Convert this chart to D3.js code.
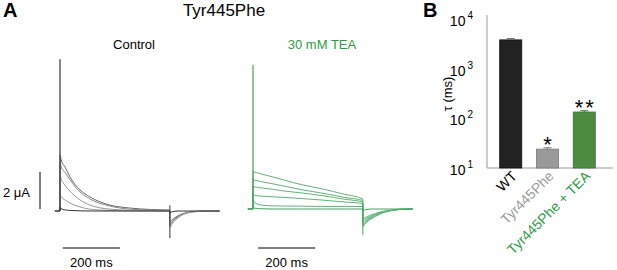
<!DOCTYPE html>
<html>
<head>
<meta charset="utf-8">
<script src="https://cdn.jsdelivr.net/npm/d3@7"></script>
<style>
  body { margin: 0; background: #fff; }
  svg { display: block; font-family: "Liberation Sans", Arial, sans-serif; }
</style>
</head>
<body>
<svg id="fig" width="617" height="270"></svg>
<script>
// ---- panel A: current sweeps, time in ms, current in µA ----
const tPre = [-18, -0.3]
const tPulse = [0, 5, 17, 35, 70, 105, 175, 245, 320, 385]
const tTail = [386, 392, 400, 414, 430, 455, 490, 520, 560]

const ctrlPulse = [
  [3.0, 2.7, 2.4, 1.84, 1.14, 0.76, 0.32, 0.16, 0.08, 0.05],
  [2.6, 2.35, 2.1, 1.68, 1.03, 0.65, 0.27, 0.10, 0.05, 0.03],
  [1.95, 1.7, 1.4, 1.08, 0.6, 0.32, 0.1, 0.04, 0.02, 0.01],
  [0.86, 0.75, 0.6, 0.43, 0.22, 0.1, 0.03, 0.01, 0, 0],
  [0.2, 0.12, 0.06, 0.03, 0.01, 0, 0, 0, 0, 0]
]
const ctrlTail = [
  [-0.6, -0.5, -0.4, -0.26, -0.15, -0.05, -0.01, 0, 0],
  [-0.7, -0.58, -0.46, -0.3, -0.17, -0.06, -0.01, 0, 0],
  [-0.8, -0.66, -0.52, -0.34, -0.19, -0.07, -0.02, 0, 0],
  [-0.88, -0.72, -0.57, -0.37, -0.21, -0.08, -0.02, 0, 0],
  [-0.1, -0.05, -0.02, 0, 0, 0, 0, 0, 0]
]
const teaPulse = [
  [2.05, 2.0, 1.95, 1.87, 1.73, 1.58, 1.3, 1.08, 0.8, 0.54],
  [1.62, 1.57, 1.52, 1.46, 1.36, 1.25, 1.03, 0.85, 0.63, 0.46],
  [1.24, 1.2, 1.17, 1.13, 1.06, 0.98, 0.86, 0.72, 0.53, 0.38],
  [0.78, 0.74, 0.71, 0.69, 0.66, 0.63, 0.56, 0.48, 0.38, 0.3],
  [0.5, 0.36, 0.26, 0.2, 0.17, 0.16, 0.15, 0.14, 0.14, 0.13],
  [0.1, 0.05, 0.02, 0.01, 0, 0, 0, 0, 0, 0]
]
const teaTail = [
  [-0.55, -0.48, -0.42, -0.32, -0.24, -0.13, -0.05, -0.01, 0],
  [-0.65, -0.57, -0.5, -0.38, -0.28, -0.15, -0.06, -0.01, 0],
  [-0.75, -0.66, -0.57, -0.44, -0.32, -0.17, -0.06, -0.02, 0],
  [-0.85, -0.74, -0.64, -0.49, -0.36, -0.19, -0.07, -0.02, 0],
  [-0.95, -0.82, -0.7, -0.54, -0.4, -0.21, -0.08, -0.02, 0],
  [-0.1, -0.05, -0.02, 0, 0, 0, 0, 0, 0]
]
const spikePeak = { ctrl: 8.2, tea: 7.8 }
const tailTrough = { ctrl: -1.46, tea: -1.4 }

// ---- panel B: tau (ms), log scale ----
const groups = ['WT', 'Tyr445Phe', 'Tyr445Phe + TEA']
const tauMean = [3800, 24, 134]
const tauErr = [250, 1.5, 8]
const stars = ['', '*', '**']
const yTickVals = [10, 100, 1000, 10000]

const barFill = ['#222222', '#9a9a9a', '#4c8c40']
const barStroke = ['#111111', '#7a7a7a', '#3a7232']
const labelColor = ['#000000', '#9a9a9a', '#2f9a47']
const green = '#2f9a47'
const traceGreen = '#62b279'

const svg = d3.select('#fig')

// headings
svg.append('text').attr('x', 3).attr('y', 17)
  .attr('font-size', 20).attr('font-weight', 'bold').text('A')
svg.append('text').attr('x', 423).attr('y', 17)
  .attr('font-size', 20).attr('font-weight', 'bold').text('B')
svg.append('text').attr('x', 224).attr('y', 16)
  .attr('text-anchor', 'middle').attr('font-size', 17).text('Tyr445Phe')

function sweep(pulse, tail) {
  return tPre.map(t => [t, 0])
    .concat(tPulse.map((t, i) => [t, pulse[i]]))
    .concat(tTail.map((t, i) => [t, tail[i]]))
}

function drawTraces(cfg) {
  let x = d3.scaleLinear().domain([0, 200]).range([cfg.x0, cfg.x0 + 57])
  let y = d3.scaleLinear().domain([0, 2]).range([cfg.base, cfg.base - 37])
  let g = svg.append('g')

  let line = d3.line()
    .x(d => x(d[0]))
    .y(d => y(d[1]))
    .curve(d3.curveMonotoneX)

  cfg.pulse.forEach((p, i) => {
    g.append('path')
      .datum(sweep(p, cfg.tail[i]))
      .attr('fill', 'none')
      .attr('stroke', cfg.colors[i])
      .attr('stroke-width', 1)
      .attr('d', line)
  })

  // capacitive transients
  g.append('line')
    .attr('x1', x(0)).attr('x2', x(0))
    .attr('y1', y(0)).attr('y2', y(cfg.peak))
    .attr('stroke', cfg.spikeColor).attr('stroke-width', 1.2)
  g.append('line')
    .attr('x1', x(385.5)).attr('x2', x(385.5))
    .attr('y1', y(0.3)).attr('y2', y(cfg.trough))
    .attr('stroke', cfg.spikeColor).attr('stroke-width', 1)

  svg.append('text')
    .attr('x', cfg.labelX).attr('y', 49)
    .attr('text-anchor', 'middle').attr('font-size', 13)
    .attr('fill', cfg.labelColor).text(cfg.label)

  // 200 ms scale bar
  g.append('line')
    .attr('x1', x(cfg.barT)).attr('x2', x(cfg.barT + 200))
    .attr('y1', 248).attr('y2', 248)
    .attr('stroke', '#000').attr('stroke-width', 1)
  svg.append('text')
    .attr('x', (x(cfg.barT) + x(cfg.barT + 200)) / 2).attr('y', 267)
    .attr('text-anchor', 'middle').attr('font-size', 13).text('200 ms')

  return { x, y }
}

let ctrl = drawTraces({
  x0: 60, base: 211, pulse: ctrlPulse, tail: ctrlTail,
  colors: ['#666', '#888', '#999', '#999', '#333'],
  spikeColor: '#333', peak: spikePeak.ctrl, trough: tailTrough.ctrl,
  label: 'Control', labelX: 134, labelColor: '#000', barT: 10
})
drawTraces({
  x0: 253, base: 209, pulse: teaPulse, tail: teaTail,
  colors: [traceGreen, traceGreen, traceGreen, traceGreen, traceGreen, '#45a060'],
  spikeColor: '#45a060', peak: spikePeak.tea, trough: tailTrough.tea,
  label: '30 mM TEA', labelX: 322, labelColor: green, barT: 18
})

// 2 µA scale bar
svg.append('line')
  .attr('x1', 40).attr('x2', 40)
  .attr('y1', ctrl.y(0) - 2).attr('y2', ctrl.y(2) - 2)
  .attr('stroke', '#000').attr('stroke-width', 1)
svg.append('text').attr('x', 3).attr('y', 197)
  .attr('font-size', 13).text('2 \u03bcA')

// ---- panel B ----
const bx0 = 487, bx1 = 613
const yScale = d3.scaleLog().domain([10, 10000]).range([168, 19])
const xScale = d3.scaleBand().domain(groups).range([485, 610])
  .paddingInner(0.4).paddingOuter(0.4)

let gb = svg.append('g')

gb.append('line').attr('x1', bx0).attr('x2', bx0)
  .attr('y1', 15).attr('y2', yScale(10))
  .attr('stroke', '#999')
gb.append('line').attr('x1', bx0).attr('x2', bx1)
  .attr('y1', yScale(10)).attr('y2', yScale(10))
  .attr('stroke', '#999')

let ticks = gb.selectAll('.tick').data(yTickVals).join('text')
  .attr('class', 'tick')
  .attr('x', 473).attr('y', d => yScale(d) + 7)
  .attr('text-anchor', 'end').attr('font-size', 14)
ticks.append('tspan').text('10')
ticks.append('tspan').attr('dx', 2).attr('dy', -7)
  .attr('font-size', 10).text(d => Math.round(Math.log10(d)))

gb.append('text')
  .attr('transform', 'translate(452,94) rotate(-90)')
  .attr('text-anchor', 'middle').attr('font-size', 13)
  .text('\u03c4 (ms)')

let bars = gb.selectAll('.bar').data(groups).join('g').attr('class', 'bar')

bars.append('rect')
  .attr('x', d => xScale(d))
  .attr('width', xScale.bandwidth())
  .attr('y', (d, i) => yScale(tauMean[i]))
  .attr('height', (d, i) => yScale(10) - yScale(tauMean[i]))
  .attr('fill', (d, i) => barFill[i])
  .attr('stroke', (d, i) => barStroke[i])
  .attr('stroke-width', 0.8)

// error bars
bars.append('path')
  .attr('d', (d, i) => {
    let cx = xScale(d) + xScale.bandwidth() / 2
    let top = yScale(tauMean[i] + tauErr[i])
    let mid = yScale(tauMean[i])
    return `M${cx},${mid}V${top}M${cx - 4},${top}H${cx + 4}`
  })
  .attr('fill', 'none')
  .attr('stroke', (d, i) => i === 0 ? '#777' : barStroke[i])
  .attr('stroke-width', 1)

bars.append('text')
  .attr('x', d => xScale(d) + xScale.bandwidth() / 2 + 1)
  .attr('y', (d, i) => yScale(tauMean[i] + tauErr[i]) + 4)
  .attr('text-anchor', 'middle').attr('font-size', 22)
  .attr('letter-spacing', 2)
  .text((d, i) => stars[i])

bars.append('text')
  .attr('transform', d => `translate(${xScale(d) + xScale.bandwidth() / 2 + 7},${yScale(10) + 9}) rotate(-45)`)
  .attr('text-anchor', 'end').attr('font-size', 14)
  .attr('fill', (d, i) => labelColor[i])
  .text(d => d)
</script>
</body>
</html>
